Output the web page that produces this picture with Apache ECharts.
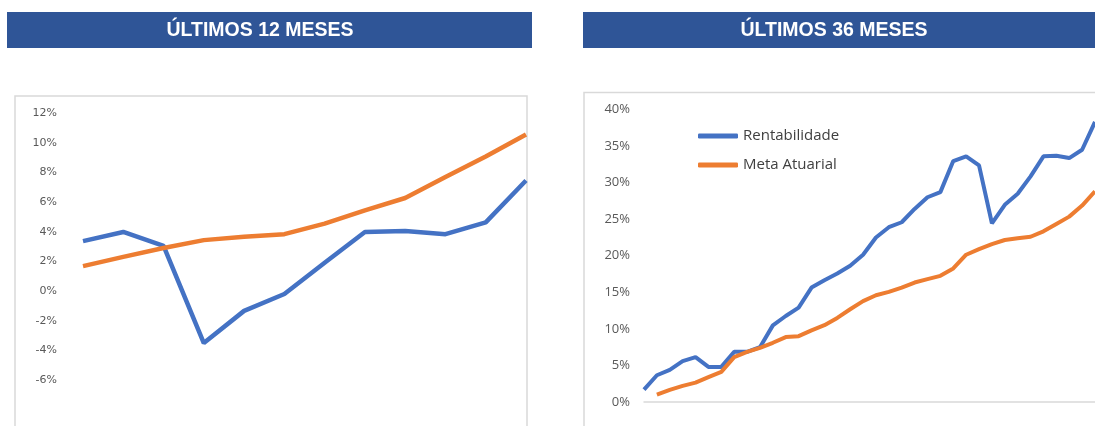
<!DOCTYPE html>
<html>
<head>
<meta charset="utf-8">
<script src="https://cdn.jsdelivr.net/npm/echarts@6/dist/echarts.min.js"></script>
<style>
  html, body { margin: 0; padding: 0; background: #fff; }
  #main { width: 1095px; height: 426px; }
</style>
</head>
<body>
<div id="main"></div>
<script>
// últimos 12 meses
var meses12 = ['1', '2', '3', '4', '5', '6', '7', '8', '9', '10', '11', '12']
var rent12 = [3.36, 3.98, 3.04, -3.51, -1.34, -0.2, 1.9, 3.98, 4.05, 3.83, 4.63, 7.45]
var meta12 = [1.68, 2.3, 2.9, 3.43, 3.65, 3.83, 4.54, 5.44, 6.27, 7.68, 9.07, 10.55]

// últimos 36 meses
var meses36 = []
for (var i = 0; i < 36; i++) meses36.push(String(i))
var rent36 = [1.7, 3.66, 4.39, 5.58, 6.13, 4.8, 4.8, 6.86, 6.86, 7.5,
  10.48, 11.76, 12.9, 15.65, 16.66, 17.57, 18.63, 20.14, 22.5, 23.9,
  24.58, 26.4, 28.0, 28.7, 32.95, 33.6, 32.36, 24.44, 26.96, 28.47,
  30.85, 33.6, 33.68, 33.36, 34.5, 38.3]
var meta36 = [null, 1.0, 1.65, 2.2, 2.65, 3.39, 4.12, 6.13, 6.86, 7.41,
  8.1, 8.88, 9.0, 9.8, 10.5, 11.5, 12.68, 13.8, 14.6, 15.06,
  15.65, 16.34, 16.8, 17.25, 18.26, 20.14, 20.9, 21.6, 22.15, 22.4,
  22.6, 23.34, 24.35, 25.35, 26.86, 28.8]

function main() {
  var myChart = echarts.init(document.getElementById('main'))
  var azul = '#4472C4'
  var laranja = '#ED7D31'
  var cinza = '#595959'
  var option = {
    animation: false,
    graphic: [
      { type: 'rect', shape: { x: 15, y: 96, width: 512, height: 400 }, style: { fill: 'none', stroke: '#d9d9d9', lineWidth: 1.5 }, z: 0 },
      { type: 'rect', shape: { x: 584, y: 92.5, width: 600, height: 400 }, style: { fill: 'none', stroke: '#d9d9d9', lineWidth: 1.5 }, z: 0 },
      { type: 'rect', shape: { x: 7, y: 12, width: 525, height: 36 }, style: { fill: '#2F5597' } },
      { type: 'rect', shape: { x: 583, y: 12, width: 520, height: 36 }, style: { fill: '#2F5597' } },
      { type: 'text', x: 260, y: 31, style: { text: 'ÚLTIMOS 12 MESES', fill: '#fff', font: 'bold 19.5px "Liberation Sans", Arial', textAlign: 'center', textVerticalAlign: 'middle' } },
      { type: 'text', x: 834, y: 31, style: { text: 'ÚLTIMOS 36 MESES', fill: '#fff', font: 'bold 19.5px "Liberation Sans", Arial', textAlign: 'center', textVerticalAlign: 'middle' } }
    ],
    legend: [
      { data: ['Rentabilidade'], left: 698, top: 127, padding: 0, itemWidth: 40, itemHeight: 5, icon: 'roundRect', itemGap: 4,
        textStyle: { fontFamily: 'Open Sans', fontSize: 15, color: '#404040', lineHeight: 18 } },
      { data: ['Meta Atuarial'], left: 698, top: 156, padding: 0, itemWidth: 40, itemHeight: 5, icon: 'roundRect', itemGap: 4,
        textStyle: { fontFamily: 'Open Sans', fontSize: 15, color: '#404040', lineHeight: 18 } }
    ],
    grid: [
      { left: 83, right: 569, top: 113, bottom: 46 },
      { left: 644, right: -2.6, top: 109.5, bottom: 24 }
    ],
    xAxis: [
      { gridIndex: 0, type: 'category', data: meses12, boundaryGap: false,
        axisLine: { show: false }, axisTick: { show: false }, axisLabel: { show: false } },
      { gridIndex: 1, type: 'category', data: meses36, boundaryGap: false,
        axisLine: { show: true, lineStyle: { color: '#d9d9d9', width: 1.5 } }, axisTick: { show: false }, axisLabel: { show: false } }
    ],
    yAxis: [
      { gridIndex: 0, type: 'value', min: -6, max: 12, interval: 2, splitLine: { show: false },
        axisLine: { show: false }, axisTick: { show: false },
        axisLabel: { formatter: '{value}%', margin: 26, color: cinza, fontFamily: 'DejaVu Sans', fontSize: 11 } },
      { gridIndex: 1, type: 'value', min: 0, max: 40, interval: 5, splitLine: { show: false },
        axisLine: { show: false }, axisTick: { show: false },
        axisLabel: { formatter: '{value}%', margin: 14, color: cinza, fontFamily: 'Open Sans', fontSize: 13 } }
    ],
    series: [
      { name: 'Rentabilidade', type: 'line', xAxisIndex: 0, yAxisIndex: 0, data: rent12, symbol: 'none',
        itemStyle: { color: azul }, lineStyle: { color: azul, width: 4.5 } },
      { name: 'Meta Atuarial', type: 'line', xAxisIndex: 0, yAxisIndex: 0, data: meta12, symbol: 'none',
        itemStyle: { color: laranja }, lineStyle: { color: laranja, width: 4.5 } },
      { name: 'Rentabilidade', type: 'line', xAxisIndex: 1, yAxisIndex: 1, data: rent36, symbol: 'none',
        itemStyle: { color: azul }, lineStyle: { color: azul, width: 4 } },
      { name: 'Meta Atuarial', type: 'line', xAxisIndex: 1, yAxisIndex: 1, data: meta36, symbol: 'none',
        itemStyle: { color: laranja }, lineStyle: { color: laranja, width: 4 } }
    ]
  }
  myChart.setOption(option)
}

window.onload = main
</script>
</body>
</html>
